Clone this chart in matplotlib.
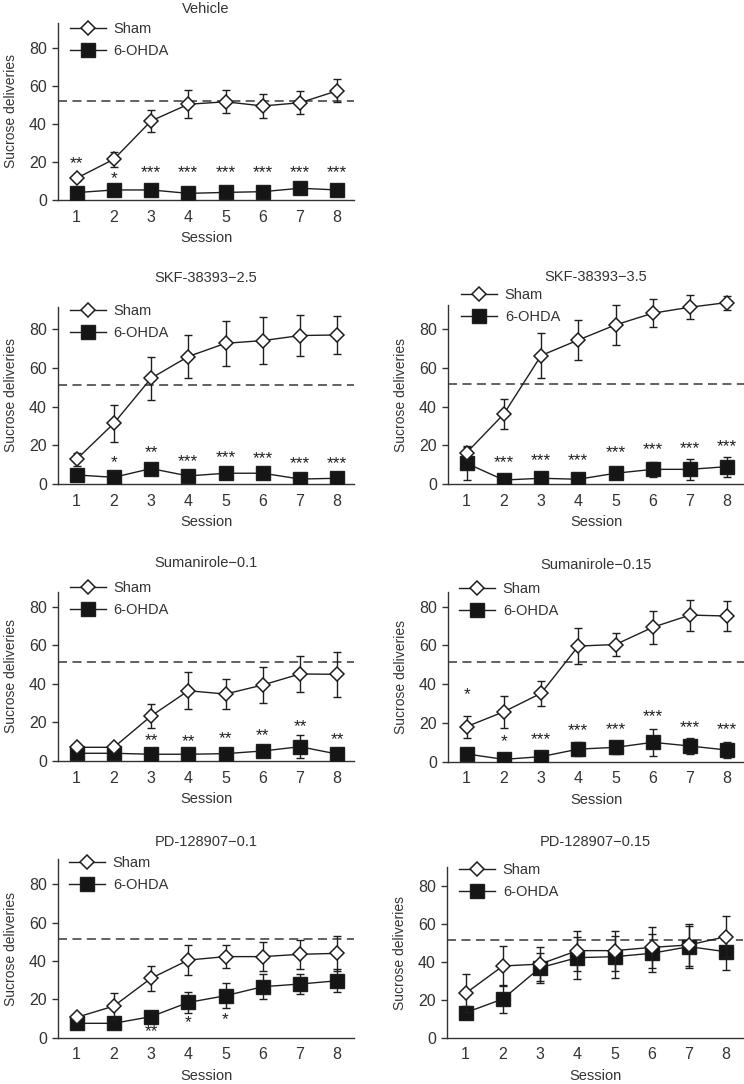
import matplotlib
matplotlib.use('Agg')
import matplotlib.pyplot as plt
import numpy as np

plt.rcParams['font.family'] = ['Liberation Sans', 'DejaVu Sans']

sessions = [1, 2, 3, 4, 5, 6, 7, 8]
yticks = [0, 20, 40, 60, 80]

# ---- data ----
veh_sham     = [11.5, 21.5, 41.7, 50.5, 51.8, 49.6, 51.3, 57.6]
veh_sham_err = [1.5, 4.0, 6.0, 7.5, 6.0, 6.4, 6.0, 6.0]
veh_ohda     = [3.9, 5.3, 5.3, 3.5, 4.0, 4.4, 6.2, 5.3]
veh_ohda_err = [1.0, 1.0, 1.0, 1.0, 1.0, 1.0, 1.0, 1.0]
veh_stars    = ['**', '*', '***', '***', '***', '***', '***', '***']
veh_star_y   = [19.4, 11.4, 14.4, 14.4, 14.4, 14.4, 14.4, 14.4]
veh_crit     = 52.2

skf25_sham     = [12.9, 31.4, 54.6, 65.8, 72.6, 74.0, 76.6, 76.9]
skf25_sham_err = [3.4, 9.5, 11.0, 11.0, 11.5, 12.0, 10.6, 9.8]
skf25_ohda     = [4.8, 3.6, 8.1, 4.3, 5.7, 5.7, 2.7, 3.1]
skf25_ohda_err = [1.0, 1.0, 1.0, 1.0, 1.0, 1.0, 1.0, 1.0]
skf25_stars    = ['', '*', '**', '***', '***', '***', '***', '***']
skf25_star_y   = [0, 11.3, 16.3, 11.7, 13.7, 13.0, 10.5, 10.8]
skf25_crit     = 51.2

skf35_sham     = [16.3, 36.2, 66.3, 74.3, 82.1, 88.1, 91.2, 93.6]
skf35_sham_err = [3.6, 7.6, 11.5, 10.3, 10.3, 7.2, 6.3, 3.6]
skf35_ohda     = [10.8, 2.2, 3.1, 2.6, 5.7, 7.7, 7.7, 9.1]
skf35_ohda_err = [8.6, 1.0, 1.0, 1.0, 1.0, 4.0, 5.3, 5.2]
skf35_stars    = ['', '***', '***', '***', '***', '***', '***', '***']
skf35_star_y   = [0, 11.3, 12.0, 12.0, 16.3, 17.7, 18.2, 19.4]
skf35_crit     = 51.5

sum01_sham     = [7.1, 7.1, 23.3, 36.4, 34.7, 39.4, 45.1, 44.9]
sum01_sham_err = [1.0, 1.0, 6.2, 9.5, 7.6, 9.5, 9.3, 11.7]
sum01_ohda     = [4.0, 4.0, 3.5, 3.5, 3.8, 5.2, 7.4, 3.6]
sum01_ohda_err = [1.0, 1.0, 1.0, 1.0, 2.0, 3.0, 6.0, 1.0]
sum01_stars    = ['', '', '**', '**', '**', '**', '**', '**']
sum01_star_y   = [0, 0, 10.5, 10.0, 11.6, 13.1, 17.8, 10.9]
sum01_crit     = 51.5

sum015_sham     = [18.1, 25.8, 35.3, 59.7, 60.5, 69.4, 75.7, 75.2]
sum015_sham_err = [5.7, 8.3, 6.4, 9.5, 6.0, 8.4, 8.0, 7.8]
sum015_ohda     = [4.0, 1.2, 2.6, 6.5, 7.4, 10.0, 8.1, 6.0]
sum015_ohda_err = [1.0, 1.0, 1.0, 3.5, 3.5, 7.0, 4.0, 4.0]
sum015_stars    = ['*', '*', '***', '***', '***', '***', '***', '***']
sum015_star_y   = [34.4, 10.3, 11.5, 15.8, 16.7, 23.2, 17.6, 16.4]
sum015_crit     = 51.6

pd01_sham     = [10.6, 16.5, 31.0, 40.5, 42.3, 42.3, 43.5, 44.0]
pd01_sham_err = [1.0, 6.6, 6.6, 7.8, 6.0, 7.4, 7.5, 9.0]
pd01_ohda     = [7.5, 7.5, 11.0, 18.4, 21.9, 26.6, 28.0, 29.7]
pd01_ohda_err = [1.0, 1.0, 1.0, 5.3, 6.4, 6.4, 5.0, 6.0]
pd01_stars    = ['', '', '**', '*', '*', '', '', '']
pd01_star_y   = [0, 0, 3.1, 8.0, 9.2, 0, 0, 0]
pd01_crit     = 51.5

pd015_sham     = [23.4, 37.8, 38.8, 45.9, 45.9, 47.6, 48.9, 53.3]
pd015_sham_err = [10.0, 10.5, 9.0, 10.5, 10.5, 11.0, 11.0, 11.0]
pd015_ohda     = [13.2, 20.4, 36.9, 42.2, 42.7, 44.5, 48.0, 45.3]
pd015_ohda_err = [3.5, 7.5, 8.0, 11.0, 11.0, 10.0, 11.0, 9.5]
pd015_stars    = ['', '', '', '', '', '', '', '']
pd015_star_y   = [0, 0, 0, 0, 0, 0, 0, 0]
pd015_crit     = 51.5

titles = ['Vehicle', 'SKF-38393\u22122.5', 'SKF-38393\u22123.5',
          'Sumanirole\u22120.1', 'Sumanirole\u22120.15',
          'PD-128907\u22120.1', 'PD-128907\u22120.15']

panels = [
    (veh_sham, veh_sham_err, veh_ohda, veh_ohda_err, veh_stars, veh_star_y, veh_crit),
    (skf25_sham, skf25_sham_err, skf25_ohda, skf25_ohda_err, skf25_stars, skf25_star_y, skf25_crit),
    (skf35_sham, skf35_sham_err, skf35_ohda, skf35_ohda_err, skf35_stars, skf35_star_y, skf35_crit),
    (sum01_sham, sum01_sham_err, sum01_ohda, sum01_ohda_err, sum01_stars, sum01_star_y, sum01_crit),
    (sum015_sham, sum015_sham_err, sum015_ohda, sum015_ohda_err, sum015_stars, sum015_star_y, sum015_crit),
    (pd01_sham, pd01_sham_err, pd01_ohda, pd01_ohda_err, pd01_stars, pd01_star_y, pd01_crit),
    (pd015_sham, pd015_sham_err, pd015_ohda, pd015_ohda_err, pd015_stars, pd015_star_y, pd015_crit),
]

# ---- layout in pixels: axis left, y of zero, px per unit, spine top, title y, legend x, legend y
W, H = 744, 1084
AX_W = 296
layout = [
    (58, 200.0, 1.896, 93.5, 9, 70, 31),
    (58, 484.3, 1.942, 91.5, 278, 70, 313),
    (448, 484.3, 1.942, 92.4, 277, 461, 297),
    (58, 761.0, 1.930, 87.7, 563, 70, 590),
    (448, 761.7, 1.937, 87.8, 565, 459, 591),
    (58, 1037.7, 1.917, 93.0, 842, 69, 865),
    (447, 1037.7, 1.897, 89.8, 842, 459, 872),
]

INK = '#1e1e1e'
TXT = '#333333'

fig = plt.figure(figsize=(W / 100, H / 100), dpi=100, facecolor='white')

for (sham, sham_err, ohda, ohda_err, stars, star_y, crit), title, lay in zip(panels, titles, layout):
    left, y0, ppu, top, title_y, lx, ly = lay
    h_px = 100 * ppu
    ax = fig.add_axes([left / W, (H - y0) / H, AX_W / W, h_px / H])
    ax.set_xlim(0.5, 8.45)
    ax.set_ylim(0, 100)

    ax.axhline(crit, color='#555555', lw=1.3, ls=(0, (5, 3)), zorder=1)

    ax.errorbar(sessions, ohda, yerr=ohda_err, fmt='none', ecolor=INK,
                elinewidth=1, capsize=3, capthick=1, zorder=2)
    h_ohda, = ax.plot(sessions, ohda, color=INK, lw=1, marker='s', ms=9.5,
                      mfc='#151515', mec=INK, mew=1, zorder=3, label='6-OHDA')
    ax.errorbar(sessions, sham, yerr=sham_err, fmt='none', ecolor=INK,
                elinewidth=1, capsize=3, capthick=1, zorder=4)
    h_sham, = ax.plot(sessions, sham, color=INK, lw=1, marker='D', ms=7.5,
                      mfc='white', mec=INK, mew=1.1, zorder=5, label='Sham')

    for s, lab, yy in zip(sessions, stars, star_y):
        if lab:
            ax.text(s, yy, lab, ha='center', va='center', fontsize=12.5, color=INK)

    for sp in ['top', 'right']:
        ax.spines[sp].set_visible(False)
    ax.spines['left'].set_bounds(0, top)
    for sp in ['left', 'bottom']:
        ax.spines[sp].set_color(TXT)
        ax.spines[sp].set_linewidth(1)

    ax.set_xticks(sessions)
    ax.set_yticks(yticks)
    ax.tick_params(axis='both', labelsize=11.5, colors=TXT, length=4, width=1, pad=4)
    ax.tick_params(axis='x', length=0, pad=7)

    ax.set_ylabel('Sucrose deliveries', fontsize=10, color=TXT)
    ax.yaxis.set_label_coords(-0.135, (top / 2) / 100)
    ax.set_xlabel('Session', fontsize=10.5, color=TXT)
    ax.xaxis.set_label_coords(0.5, -31 / h_px)

    fig.text((left + AX_W / 2) / W, 1 - title_y / H, title, ha='center', va='center',
             fontsize=10.5, color=TXT)

    ax.legend(handles=[h_sham, h_ohda], loc='upper left',
              bbox_to_anchor=(lx / W, 1 - (ly - 9) / H), bbox_transform=fig.transFigure,
              frameon=False, borderpad=0, borderaxespad=0, handlelength=2.5,
              handletextpad=0.5, labelspacing=0.55, fontsize=10.5, labelcolor=TXT)

fig.savefig('out.png', dpi=100)
